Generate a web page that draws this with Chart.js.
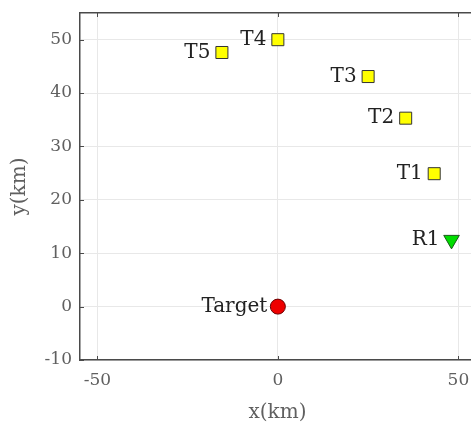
<!DOCTYPE html>
<html>
<head>
<meta charset="utf-8">
<script src="https://cdn.jsdelivr.net/npm/chart.js@4"></script>
<style>
  html, body { margin:0; padding:0; background:#fff; overflow:hidden; }
  #wrap { width:475px; height:425px; }
</style>
</head>
<body>
<div id="wrap"><canvas id="geo"></canvas></div>
<script>
// transmitter / receiver / target positions (km)
const txNames = ['T1','T2','T3','T4','T5'];
const txX = [43.3, 35.4, 25, 0, -15.5];
const txY = [24.9, 35.3, 43.1, 50, 47.6];
const rxNames = ['R1'];
const rxX = [48.1];
const rxY = [12.5];
const tgNames = ['Target'];
const tgX = [0];
const tgY = [0];
const xTicks = [-50, 0, 50];
const yTicks = [-10, 0, 10, 20, 30, 40, 50];

const pts = (xs, ys) => xs.map((x,i)=>({x, y: ys[i]}));
const serif = "'DejaVu Serif', 'Liberation Serif', serif";
const axisCol = '#4a4a4a';

// draw name to the left of each marker
const nameLabels = {
  id: 'nameLabels',
  afterDatasetsDraw(chart) {
    const ctx = chart.ctx;
    ctx.save();
    ctx.font = '20px ' + serif;
    ctx.fillStyle = '#222';
    ctx.textAlign = 'right';
    ctx.textBaseline = 'middle';
    chart.data.datasets.forEach((ds, di) => {
      const meta = chart.getDatasetMeta(di);
      meta.data.forEach((el, i) => {
        ctx.fillText(ds.names[i], el.x - ds.pointRadius - 3, el.y);
      });
    });
    ctx.restore();
  }
};

// small inward tick marks, matlab style
const innerTicks = {
  id: 'innerTicks',
  afterDraw(chart) {
    const {ctx, chartArea: a, scales} = chart;
    ctx.save();
    ctx.strokeStyle = axisCol;
    ctx.lineWidth = 1;
    ctx.beginPath();
    xTicks.forEach(v => {
      const px = Math.round(scales.x.getPixelForValue(v)) + 0.5;
      ctx.moveTo(px, a.bottom); ctx.lineTo(px, a.bottom - 4);
      ctx.moveTo(px, a.top); ctx.lineTo(px, a.top + 4);
    });
    yTicks.forEach(v => {
      const py = Math.round(scales.y.getPixelForValue(v)) + 0.5;
      ctx.moveTo(a.left, py); ctx.lineTo(a.left + 4, py);
    });
    ctx.stroke();
    ctx.restore();
  }
};

new Chart(document.getElementById('geo'), {
  type: 'scatter',
  data: {
    datasets: [
      { names: txNames, data: pts(txX, txY), pointStyle: 'rect', pointRadius: 8.5,
        backgroundColor: '#ffff00', borderColor: '#333', borderWidth: 1 },
      { names: rxNames, data: pts(rxX, rxY), pointStyle: 'triangle', rotation: 180, pointRadius: 9,
        backgroundColor: '#00dd00', borderColor: '#1a5a1a', borderWidth: 1 },
      { names: tgNames, data: pts(tgX, tgY), pointStyle: 'circle', pointRadius: 7.5,
        backgroundColor: '#ee0000', borderColor: '#6a0000', borderWidth: 1 },
    ]
  },
  options: {
    responsive: true, maintainAspectRatio: false, animation: false,
    layout: { autoPadding: false, padding: { left: 0, top: 13, right: 0, bottom: 0 } },
    plugins: { legend: { display: false }, tooltip: { enabled: false } },
    scales: {
      x: {
        type: 'linear', position: 'bottom', min: -54.8, max: 54.6,
        afterBuildTicks: s => { s.ticks = xTicks.map(v=>({value:v})); },
        afterFit: s => { s.height = 65; s.paddingLeft = 0; s.paddingRight = 0; },
        grid: { color: '#e8e8e8', drawTicks: false },
        border: { color: axisCol, width: 1.5 },
        ticks: { color: '#606060', font: { family: serif, size: 17 }, padding: 10 },
        title: { display: true, text: 'x(km)', color: '#606060', font: { family: serif, size: 20 }, padding: 0 }
      },
      y: {
        type: 'linear', position: 'left', min: -10, max: 55,
        afterBuildTicks: s => { s.ticks = yTicks.map(v=>({value:v})); },
        afterFit: s => { s.width = 80; s.paddingTop = 0; s.paddingBottom = 0; },
        grid: { color: '#e8e8e8', drawTicks: false },
        border: { color: axisCol, width: 1.5 },
        ticks: { color: '#606060', font: { family: serif, size: 17 }, padding: 8 },
        title: { display: true, text: 'y(km)', color: '#606060', font: { family: serif, size: 20 }, padding: 8 }
      },
      xTop: {
        type: 'linear', position: 'top', min: 0, max: 1, display: true,
        afterFit: s => { s.height = 0; s.paddingLeft = 0; s.paddingRight = 0; },
        grid: { drawOnChartArea: false, drawTicks: false },
        border: { color: axisCol, width: 1.5 },
        ticks: { display: false }
      }
    }
  },
  plugins: [nameLabels, innerTicks]
});
</script>
</body>
</html>
